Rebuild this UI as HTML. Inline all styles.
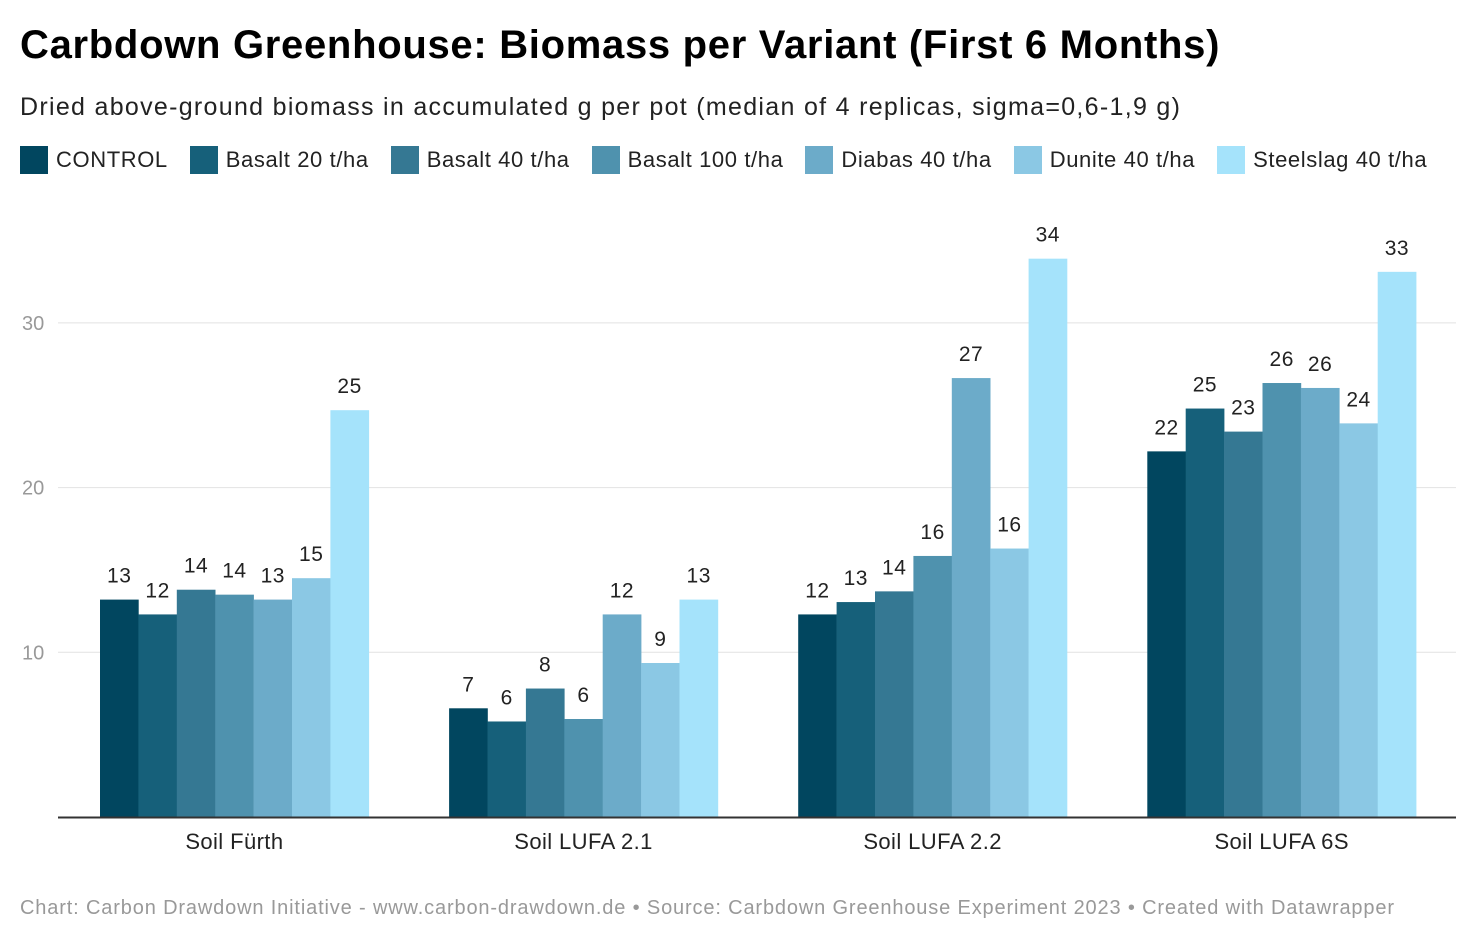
<!DOCTYPE html>
<html><head><meta charset="utf-8"><style>
body{margin:0;background:#fff;font-family:"Liberation Sans",Arial,sans-serif;}
</style></head><body>
<div style="position:relative;width:1476px;height:942px;overflow:hidden">
<div style="position:absolute;left:20px;top:23px;font-size:40px;font-weight:bold;color:#000;letter-spacing:0.7px">Carbdown Greenhouse: Biomass per Variant (First 6 Months)</div>
<div style="position:absolute;left:20px;top:93px;font-size:25px;color:#222;letter-spacing:1.3px">Dried above-ground biomass in accumulated g per pot (median of 4 replicas, sigma=0,6-1,9 g)</div>
<div id="legend" style="position:absolute;left:20px;top:145px;height:30px;display:flex;font-size:22px;color:#222;letter-spacing:0.6px"></div>
<svg id="chart" width="1476" height="942" style="position:absolute;left:0;top:0"></svg>
<div style="position:absolute;left:20px;top:897px;font-size:20px;color:#999;letter-spacing:0.85px">Chart: Carbon Drawdown Initiative - www.carbon-drawdown.de • Source: Carbdown Greenhouse Experiment 2023 • Created with Datawrapper</div>
</div>
<script>
const categories=["Soil Fürth","Soil LUFA 2.1","Soil LUFA 2.2","Soil LUFA 6S"];
const seriesNames=["CONTROL","Basalt 20 t/ha","Basalt 40 t/ha","Basalt 100 t/ha","Diabas 40 t/ha","Dunite 40 t/ha","Steelslag 40 t/ha"];
const control=[13.2,6.6,12.3,22.2];
const basalt20=[12.3,5.8,13.05,24.8];
const basalt40=[13.8,7.8,13.7,23.4];
const basalt100=[13.5,5.95,15.85,26.35];
const diabas40=[13.2,12.3,26.65,26.05];
const dunite40=[14.5,9.35,16.3,23.9];
const steelslag40=[24.7,13.2,33.9,33.1];
const yTicks=[10,20,30];
const colors=["#01465f","#16607a","#357893","#4f92ae","#6cabc9","#8bc8e4","#a5e3fb"];
const series=[control,basalt20,basalt40,basalt100,diabas40,dunite40,steelslag40];
const NS="http://www.w3.org/2000/svg";
const svg=document.getElementById('chart');
const y=v=>817-v*16.47;
const groupX=i=>100+i*349.1;
const barW=38.4;
function mk(t,a,txt){const e=document.createElementNS(NS,t);for(const k in a)e.setAttribute(k,a[k]);if(txt!==undefined)e.textContent=txt;svg.appendChild(e);return e;}
yTicks.forEach(t=>{
 const g=mk('line',{x1:58,x2:1456,y1:y(t),y2:y(t),stroke:'#e2e2e2','stroke-width':1});
 
 
 const l=mk('text',{x:22,y:y(t)+7,'font-size':20,fill:'#999','font-family':'Liberation Sans, sans-serif'},t);
 
 
});
categories.forEach((c,i)=>{
 series.forEach((s,j)=>{
  const v=s[i];const x=groupX(i)+j*barW;
  const r=mk('rect',{x:x,y:y(v),width:barW+0.3,height:817-y(v),fill:colors[j]});
  
  
  const t=mk('text',{x:x+barW/2,y:y(v)-17,'font-size':21,fill:'#222','text-anchor':'middle','font-family':'Liberation Sans, sans-serif','letter-spacing':'0.5'},Math.round(v));
  
  
 });
 const cl=mk('text',{x:groupX(i)+barW*3.5,y:849,'font-size':22,fill:'#222','text-anchor':'middle','font-family':'Liberation Sans, sans-serif','letter-spacing':'0.4'},c);
 
 
});
const base=mk('line',{x1:58,x2:1456,y1:817.5,y2:817.5,stroke:'#333','stroke-width':2});


const leg=document.getElementById('legend');
seriesNames.forEach((n,j)=>{
 const e=document.createElement('div');
 
 
 e.style.cssText='display:flex;align-items:center;margin-right:22px';
 e.innerHTML='<span style="display:inline-block;width:28px;height:28px;background:'+colors[j]+';margin-right:8px"></span><span>'+n+'</span>';
 leg.appendChild(e);
});
</script>
</body></html>
